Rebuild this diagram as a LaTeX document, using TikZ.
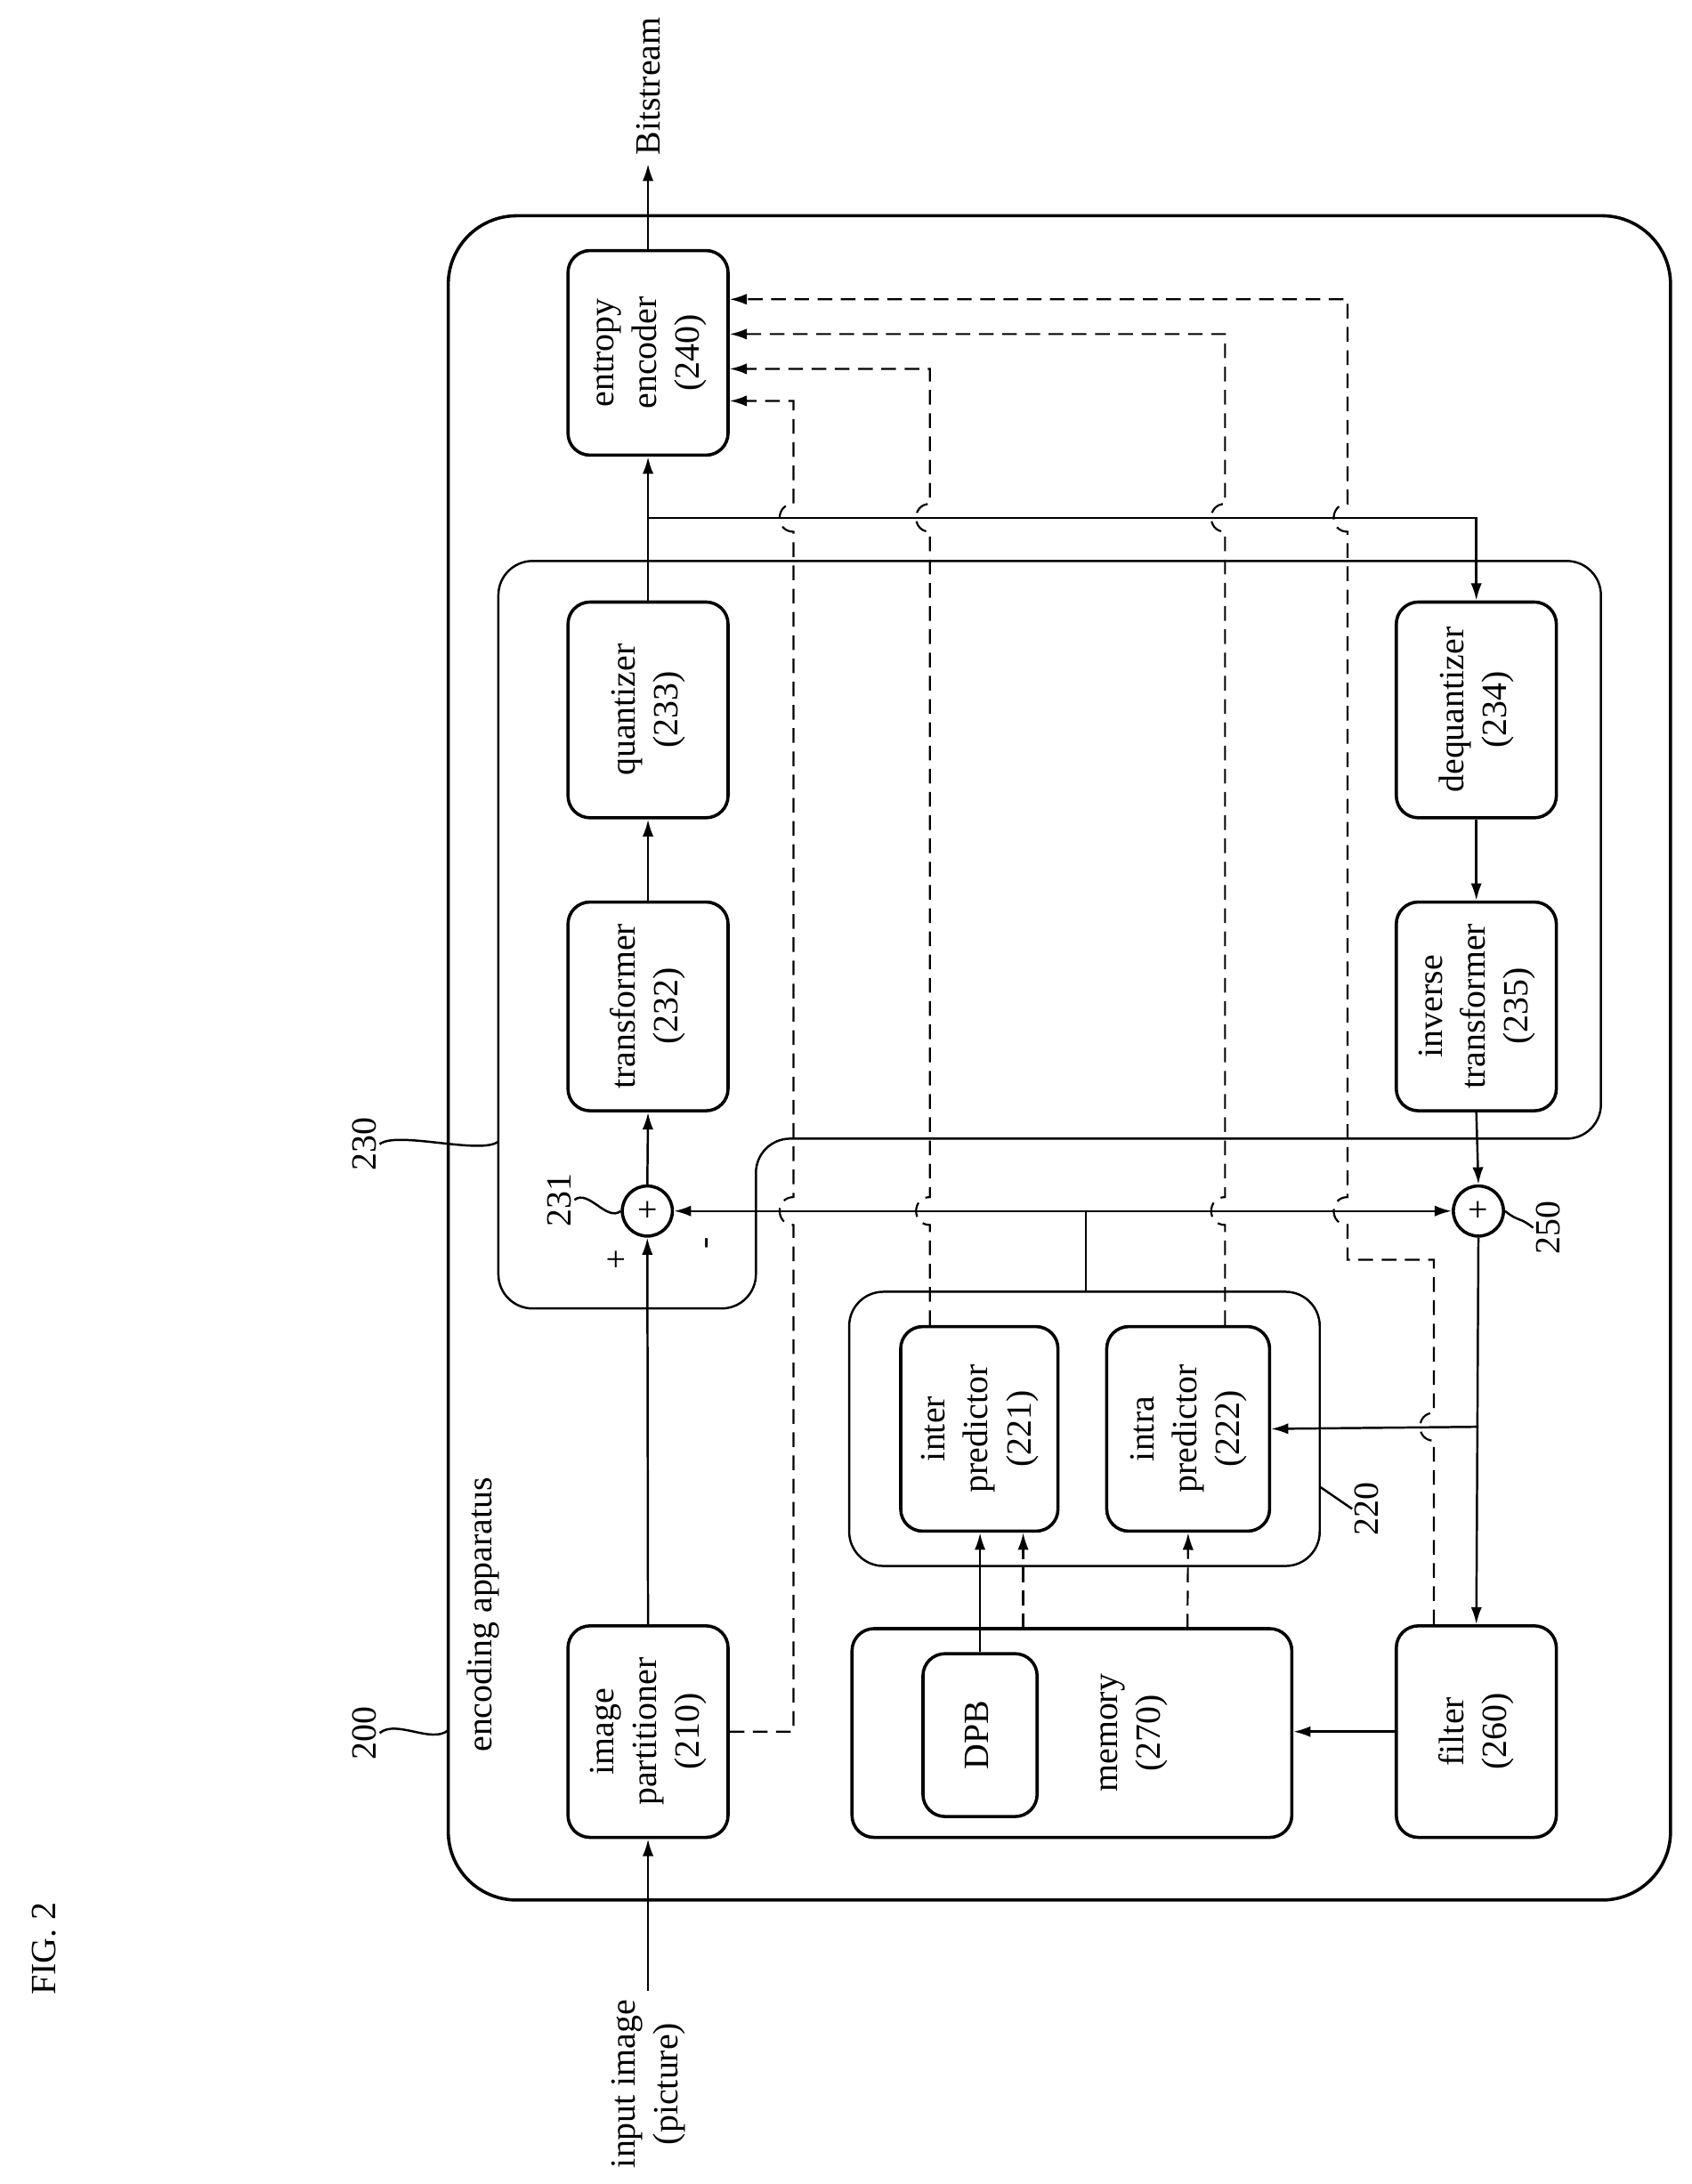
\documentclass[tikz,border=0pt]{standalone}
\usepackage{fontspec}
\setmainfont{Liberation Serif}
\usepackage{tikz}
\usetikzlibrary{arrows.meta}

\newcommand{\vtxt}[1]{\rotatebox{90}{\begin{tabular}{@{}c@{}}#1\end{tabular}}}

\tikzset{
  blk/.style={draw, line width=1.3pt, rounded corners=9pt, inner sep=0pt},
  grp/.style={draw, line width=0.9pt, rounded corners=14pt},
  sumc/.style={draw, circle, line width=1.3pt, minimum size=0.72cm, inner sep=0pt},
  arr/.style={line width=0.9pt, -{Latex[length=7pt,width=4.5pt]}},
  ln/.style={line width=0.9pt},
  dline/.style={line width=0.8pt, dash pattern=on 6pt off 3.5pt},
  hop/.style={out=180, in=180, looseness=1.7},
  lbl/.style={inner sep=1pt}
}

\begin{document}
\begin{tikzpicture}[x=0.02cm, y=-0.02cm, font=\fontsize{14.5}{17.5}\selectfont]
\useasboundingbox (0,0) rectangle (1215,1569);

% frame and groups
\draw[line width=1.3pt, rounded corners=28pt] (322,155) rectangle (1200,1365);
\draw[grp] (358,403) -- (1150,403) -- (1150,818) -- (543,818) -- (543,940) -- (358,940) -- cycle;
\draw[grp] (610,928) rectangle (948,1125);

% blocks
\node[blk, minimum width=2.3cm, minimum height=3.04cm] (part) at (465.5,1244) {\vtxt{image\\partitioner\\(210)}};
\node[blk, minimum width=2.3cm, minimum height=3cm] (trans) at (465.5,723) {\vtxt{transformer\\(232)}};
\node[blk, minimum width=2.3cm, minimum height=3.1cm] (quant) at (465.5,510) {\vtxt{quantizer\\(233)}};
\node[blk, minimum width=2.3cm, minimum height=2.94cm] (ent) at (465.5,253.5) {\vtxt{entropy\\encoder\\(240)}};
\node[blk, minimum width=2.3cm, minimum height=3.1cm] (deq) at (1060.5,510) {\vtxt{dequantizer\\(234)}};
\node[blk, minimum width=2.3cm, minimum height=3cm] (inv) at (1060.5,723) {\vtxt{inverse\\transformer\\(235)}};
\node[blk, minimum width=2.3cm, minimum height=3.04cm] (filt) at (1060.5,1244) {\vtxt{filter\\(260)}};
\node[blk, minimum width=2.26cm, minimum height=2.94cm] (inter) at (703.5,1026.5) {\vtxt{inter\\predictor\\(221)}};
\node[blk, minimum width=2.34cm, minimum height=2.94cm] (intra) at (853.5,1026.5) {\vtxt{intra\\predictor\\(222)}};
\node[blk, minimum width=6.32cm, minimum height=3cm] (mem) at (770,1245) {};
\node[blk, minimum width=1.64cm, minimum height=2.34cm] (dpb) at (704,1246.5) {\vtxt{DPB}};
\node (memt) at (812,1245) {\vtxt{memory\\(270)}};
\node[sumc] (s231) at (465,870) {+};
\node[sumc] (s250) at (1062,870) {+};

% texts
\node (fig) at (32,1400) {\rotatebox{90}{FIG. 2}};
\node (inp) at (465.5,1497) {\vtxt{input image\\(picture)}};
\node (bits) at (465.5,62) {\rotatebox{90}{Bitstream}};
\node (encap) at (347,1160) {\rotatebox{90}{encoding apparatus}};
\node[lbl] (l200) at (262,1245) {\rotatebox{90}{200}};
\node[lbl] (l230) at (262,822) {\rotatebox{90}{230}};
\node[lbl] (l231) at (402,862) {\rotatebox{90}{231}};
\node[lbl] (l250) at (1112,882) {\rotatebox{90}{250}};
\node[lbl] (l220) at (982,1084) {\rotatebox{90}{220}};
\node (plus) at (444,905) {\rotatebox{90}{+}};
\node (minus) at (510,893) {\rotatebox{90}{-}};

% label squiggles
\draw[ln] (l200.east) .. controls +(12,-10) and +(-12,10) .. (322,1243);
\draw[ln] (l230.east) .. controls +(12,-10) and +(-12,10) .. (358,820);
\draw[ln] (l231.east) .. controls +(10,-8) and +(-10,8) .. (s231.west);
\draw[ln] (s250.east) .. controls +(10,8) and +(-10,-8) .. (l250.west);
\draw[ln] (948,1068) .. controls +(12,8) and +(-12,-8) .. (l220.west);

% main path
\coordinate (br) at (465,372);
\coordinate (pj) at (780,870);
\coordinate (fj) at (1062,1025);
\draw[arr] (inp.north) -- (part.south);
\draw[arr] (ent.north) -- (bits.south);
\draw[arr] (part.north) -- (s231.south);
\draw[arr] (s231.north) -- (trans.south);
\draw[arr] (trans.north) -- (quant.south);
\draw[arr] (quant.north) -- (ent.south);
\draw[arr] (br) -| (deq.north);
\draw[arr] (deq.south) -- (inv.north);
\draw[arr] (inv.south) -- (s250.north);
\draw[ln] (pj |- 0,928) -- (pj);
\draw[arr] (pj) -- (s231.east);
\draw[arr] (pj) -- (s250.west);
\draw[arr] (s250.south) -- (filt.north);
\draw[arr] (fj) -- (intra.east);
\draw[arr] (filt.west) -- (mem.east |- filt.west);
\draw[arr] (dpb.north) -- (dpb.north |- inter.south);
\draw[dline,-{Latex[length=7pt,width=4.5pt]}] (735,1170) -- (inter.south -| 735,0);
\draw[dline,-{Latex[length=7pt,width=4.5pt]}] (853,1170) -- (intra.south);

% side information to the entropy encoder
\draw[dline,-{Latex[length=7pt,width=4.5pt]}] (part.east) -- (570,1244) -- (570,880) to[hop] (570,860) -- (570,382) to[hop] (570,362) -- (570,288) -- (ent.east |- 570,288);
\draw[dline,-{Latex[length=7pt,width=4.5pt]}] (inter.north -| 668,0) -- (668,880) to[hop] (668,860) -- (668,382) to[hop] (668,362) -- (668,265) -- (ent.east |- 668,265);
\draw[dline,-{Latex[length=7pt,width=4.5pt]}] (intra.north -| 880,0) -- (880,880) to[hop] (880,860) -- (880,382) to[hop] (880,362) -- (880,240) -- (ent.east |- 880,240);
\draw[dline,-{Latex[length=7pt,width=4.5pt]}] (filt.north -| 1030,0) -- (1030,1035) to[hop] (1030,1015) -- (1030,905) -- (968,905) -- (968,880) to[hop] (968,860) -- (968,382) to[hop] (968,362) -- (968,215) -- (ent.east |- 968,215);
\end{tikzpicture}
\end{document}
